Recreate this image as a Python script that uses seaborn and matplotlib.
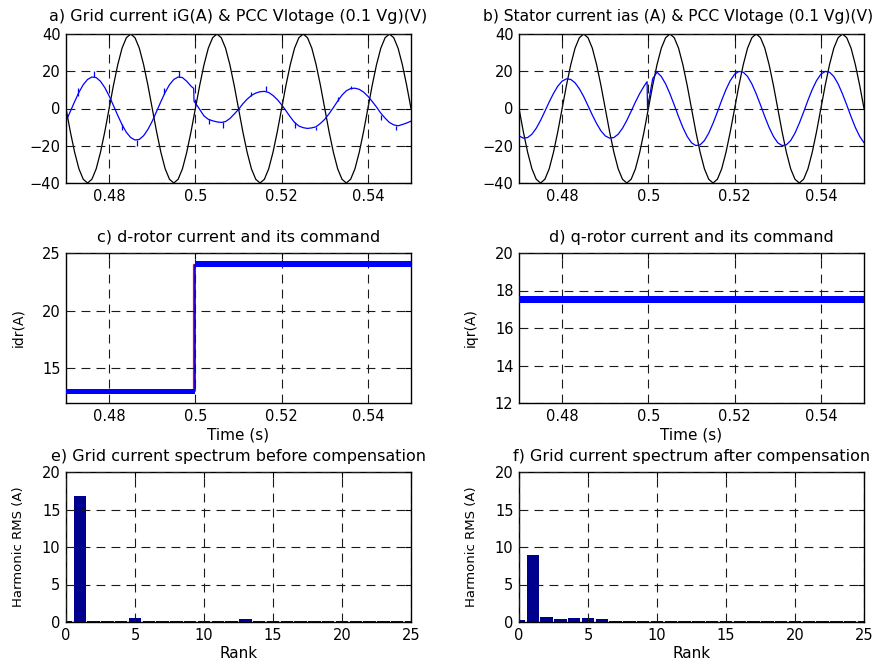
import numpy as np
import pandas as pd
import seaborn as sns
import matplotlib
matplotlib.use("Agg")
import matplotlib.pyplot as plt

# time axis of the waveforms (s), one reading every 1 ms from 0.47 to 0.55
t_wave = np.arange(470, 551) / 1000.0

vg = [0, -12.4, -23.5, -32.4, -38.0, -40, -38.0, -32.4, -23.5, -12.4,
      0, 12.4, 23.5, 32.4, 38.0, 40, 38.0, 32.4, 23.5, 12.4,
      0, -12.4, -23.5, -32.4, -38.0, -40, -38.0, -32.4, -23.5, -12.4,
      0, 12.4, 23.5, 32.4, 38.0, 40, 38.0, 32.4, 23.5, 12.4,
      0, -12.4, -23.5, -32.4, -38.0, -40, -38.0, -32.4, -23.5, -12.4,
      0, 12.4, 23.5, 32.4, 38.0, 40, 38.0, 32.4, 23.5, 12.4,
      0, -12.4, -23.5, -32.4, -38.0, -40, -38.0, -32.4, -23.5, -12.4,
      0, 12.4, 23.5, 32.4, 38.0, 40, 38.0, 32.4, 23.5, 12.4,
      0]

# grid current iG (A), panel a
ig = [-6.8, -1.6, 3.7, 8.7, 12.8, 15.6, 16.9, 16.6, 14.6, 11.2,
      6.8, 1.6, -3.7, -8.7, -12.8, -15.6, -16.9, -16.6, -14.6, -11.2,
      -6.8, -1.6, 3.7, 8.7, 12.8, 15.6, 16.9, 16.6, 14.6, 12.0,
      3.0, -0.5, -4.0, -5.8, -6.6, -7.2, -7.5, -7.0, -5.4, -3.0,
      -0.5, 2.5, 5.0, 7.0, 8.3, 9.0, 9.2, 8.6, 7.0, 4.8,
      2.0, -1.2, -4.5, -7.5, -9.4, -10.3, -10.7, -10.4, -9.8, -8.0,
      -5.8, -2.8, 0.5, 4.0, 7.2, 9.5, 10.7, 10.9, 10.3, 8.8,
      6.6, 3.8, 0.8, -2.5, -5.2, -7.5, -8.8, -9.3, -8.6, -7.8,
      -6.8]
ig_jump_t = [0.4996, 0.4997]
ig_jump_v = [10.8, 3.7]

# switching spikes on iG
spike_t = [0.4727, 0.4765, 0.4831, 0.4865, 0.4927, 0.4962, 0.5032, 0.5065,
           0.5130, 0.5163, 0.5231, 0.5279, 0.5330, 0.5362, 0.5431, 0.5465]
spike_from = [6.5, 17.0, -8.3, -16.8, 8.0, 17.0, -5.6, -7.3,
              6.6, 9.2, -7.4, -10.0, 4.0, 10.6, -3.4, -9.2]
spike_to = [10.8, 20.2, -11.5, -20.0, 11.0, 20.2, -8.5, -10.6,
            8.8, 12.1, -10.4, -11.8, 6.4, 12.3, -6.0, -11.8]

# stator current ias (A), panel b
ias = [-14.7, -15.9, -15.6, -13.8, -10.6, -6.4, -1.5, 3.5, 8.1, 12.0,
       14.7, 15.9, 15.6, 13.8, 10.6, 6.4, 1.5, -3.5, -8.1, -12.0,
       -14.7, -15.9, -15.6, -13.8, -10.6, -6.4, -1.5, 3.5, 8.1, 12.0,
       3.0, 16.0, 19.5, 17.2, 13.2, 7.9, 1.9, -4.4, -10.2, -15.0,
       -18.4, -19.9, -19.5, -17.2, -13.2, -7.9, -1.9, 4.4, 10.2, 15.0,
       18.4, 19.9, 19.5, 17.2, 13.2, 7.9, 1.9, -4.4, -10.2, -15.0,
       -18.4, -19.9, -19.5, -17.2, -13.2, -7.9, -1.9, 4.4, 10.2, 15.0,
       18.4, 19.9, 19.5, 17.2, 13.2, 7.9, 1.9, -4.4, -10.2, -15.0,
       -18.4]
ias_jump_t = [0.4997, 0.4998]
ias_jump_v = [14.4, 0.0]

# d-rotor current: noise band and command (A), panel c
idr_t = [0.470, 0.500, 0.500, 0.550]
idr_lo = [12.75, 12.75, 23.75, 23.75]
idr_hi = [13.25, 13.25, 24.30, 24.30]
idr_mid = [13.0, 13.0, 24.0, 24.0]
idr_cmd_t = [0.470, 0.4996, 0.4996, 0.550]
idr_cmd = [13.0, 13.0, 24.0, 24.0]

# q-rotor current: noise band and command (A), panel d
iqr_t = [0.470, 0.550]
iqr_lo = [17.33, 17.33]
iqr_hi = [17.70, 17.70]
iqr_cmd = [17.5, 17.5]

# harmonic spectra (A rms), panels e and f
rank = list(range(26))
spec_before = [0.15, 16.8, 0.18, 0.18, 0.18, 0.48, 0.18, 0.18, 0.18, 0.18,
               0.18, 0.18, 0.18, 0.38, 0.18, 0.18, 0.18, 0.18, 0.18, 0.18,
               0.18, 0.18, 0.18, 0.18, 0.18, 0.18]
spec_after = [0.30, 9.0, 0.62, 0.35, 0.48, 0.50, 0.35, 0.20, 0.18, 0.18,
              0.18, 0.18, 0.18, 0.18, 0.18, 0.18, 0.18, 0.18, 0.18, 0.18,
              0.18, 0.18, 0.18, 0.18, 0.18, 0.18]

sns.set_style("white")
plt.rcParams['font.family'] = ['DejaVu Sans']
plt.rcParams['text.color'] = 'k'
plt.rcParams['axes.labelcolor'] = 'k'
plt.rcParams['xtick.color'] = 'k'
plt.rcParams['ytick.color'] = 'k'

BLUE = '#0000FF'
NAVY = '#00008F'
GRID_LS = (0, (8, 5.5))


def with_jump(values, jt, jv):
    d = pd.DataFrame({'t': np.r_[t_wave, jt], 'v': np.r_[values, jv]})
    return d.sort_values('t', kind='stable')


def style(ax, title, xlim, ylim, yticks, xticks=None, xticklabels=None,
          tpad=8, tsize=11.5, tx=0.5):
    ax.set_xlim(*xlim)
    ax.set_ylim(*ylim)
    ax.set_yticks(yticks)
    if xticks is not None:
        ax.set_xticks(xticks)
        ax.set_xticklabels(xticklabels)
    ax.set_title(title, fontsize=tsize, pad=tpad, color='k', x=tx)
    ax.grid(True, color='#1a1a1a', linestyle=GRID_LS, linewidth=0.8)
    ax.set_axisbelow(False)
    ax.tick_params(direction='in', top=True, right=True, length=4,
                   labelsize=10.5, pad=4, color='k', labelcolor='k')
    for sp in ax.spines.values():
        sp.set_color('k')
        sp.set_linewidth(1.0)
        sp.set_visible(True)
    ax.set_xlabel('')
    ax.set_ylabel('')


fig = plt.figure(figsize=(8.85, 6.64), dpi=100)
W, H = 885.0, 664.0


def axes_px(left, top, right, bottom):
    return fig.add_axes([left / W, 1 - bottom / H, (right - left) / W, (bottom - top) / H])


ax_a = axes_px(66, 34, 411, 183)
ax_b = axes_px(519, 34, 864, 183)
ax_c = axes_px(66, 253, 411, 403)
ax_d = axes_px(519, 253, 864, 403)
ax_e = axes_px(66, 472, 411, 622)
ax_f = axes_px(519, 472, 864, 622)

time_ticks = [0.48, 0.5, 0.52, 0.54]
time_labels = ['0.48', '0.5', '0.52', '0.54']

# a) grid current and PCC voltage
sns.lineplot(x=t_wave, y=vg, ax=ax_a, color='k', linewidth=0.9,
             estimator=None, sort=False)
ig_df = with_jump(ig, ig_jump_t, ig_jump_v)
sns.lineplot(data=ig_df, x='t', y='v', ax=ax_a, color=BLUE, linewidth=0.9,
             estimator=None, sort=False)
ax_a.vlines(spike_t, spike_from, spike_to, color=BLUE, linewidth=0.9)
style(ax_a, 'a) Grid current iG(A) & PCC Vlotage (0.1 Vg)(V)',
      (0.47, 0.55), (-40, 40), [-40, -20, 0, 20, 40], time_ticks, time_labels, tpad=9)

# b) stator current and PCC voltage
sns.lineplot(x=t_wave, y=vg, ax=ax_b, color='k', linewidth=0.9,
             estimator=None, sort=False)
ias_df = with_jump(ias, ias_jump_t, ias_jump_v)
sns.lineplot(data=ias_df, x='t', y='v', ax=ax_b, color=BLUE, linewidth=0.9,
             estimator=None, sort=False)
style(ax_b, 'b) Stator current ias (A) & PCC Vlotage (0.1 Vg)(V)',
      (0.47, 0.55), (-40, 40), [-40, -20, 0, 20, 40], time_ticks, time_labels,
      tpad=9, tsize=11.2, tx=0.46)

# c) d-rotor current
sns.lineplot(x=idr_cmd_t, y=idr_cmd, ax=ax_c, color='red', linewidth=1.6,
             estimator=None, sort=False)
ax_c.fill_between(idr_t, idr_lo, idr_hi, color=BLUE, linewidth=0, zorder=3)
sns.lineplot(x=idr_t, y=idr_mid, ax=ax_c, color=BLUE, linewidth=1.2,
             estimator=None, sort=False, zorder=3)
style(ax_c, 'c) d-rotor current and its command',
      (0.47, 0.55), (12, 25), [15, 20, 25], time_ticks, time_labels)
ax_c.set_ylabel('idr(A)', fontsize=10, labelpad=12)
ax_c.set_xlabel('Time (s)', fontsize=11, labelpad=2.5)

# d) q-rotor current
sns.lineplot(x=iqr_t, y=iqr_cmd, ax=ax_d, color='red', linewidth=1.2,
             estimator=None, sort=False)
ax_d.fill_between(iqr_t, iqr_lo, iqr_hi, color=BLUE, linewidth=0, zorder=3)
style(ax_d, 'd) q-rotor current and its command',
      (0.47, 0.55), (12, 20), [12, 14, 16, 18, 20], time_ticks, time_labels)
ax_d.set_ylabel('iqr(A)', fontsize=10, labelpad=12)
ax_d.set_xlabel('Time (s)', fontsize=11, labelpad=2.5)

# e) and f) spectra
for ax, vals, title in [(ax_e, spec_before, 'e) Grid current spectrum before compensation'),
                        (ax_f, spec_after, 'f) Grid current spectrum after compensation')]:
    sns.barplot(x=rank, y=vals, ax=ax, native_scale=True, width=0.9,
                color=NAVY, saturation=1, edgecolor='none')
    style(ax, title, (0, 25), (0, 20), [0, 5, 10, 15, 20],
          [0, 5, 10, 15, 20, 25], ['0', '5', '10', '15', '20', '25'])
    ax.set_ylabel('Harmonic RMS (A)', fontsize=9.5, labelpad=12)
    ax.set_xlabel('Rank', fontsize=11, labelpad=2.5)

fig.savefig('out.png', dpi=100)
